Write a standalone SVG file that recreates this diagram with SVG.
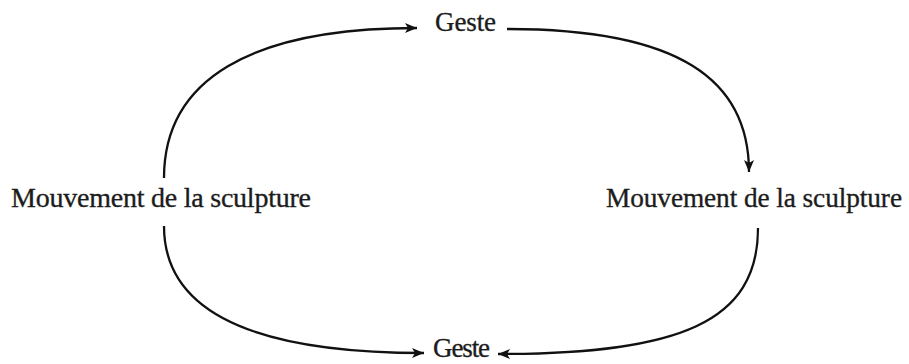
<svg xmlns="http://www.w3.org/2000/svg" width="909" height="364" viewBox="0 0 909 364">
<defs>
<style>
.lbl{font-family:"Liberation Serif","Times New Roman",serif;fill:#1c1c1c;stroke:#1c1c1c;stroke-width:0.35}
.geste{font-size:27px}
.mvt{font-size:28px}
.conn{fill:none;stroke:#111;stroke-width:2.3}
</style>
<marker id="arr" viewBox="0 0 12 10" refX="12" refY="5" markerWidth="12" markerHeight="10" markerUnits="userSpaceOnUse" orient="auto">
<path d="M0,0 L12,5 L0,10 L3,5 Z" fill="#111"/>
</marker>
</defs>
<rect width="909" height="364" fill="#fff"/>
<g id="geste-top"><text class="lbl geste" x="435" y="31" textLength="61">Geste</text></g>
<g id="geste-bottom"><text class="lbl geste" x="433" y="357" textLength="57">Geste</text></g>
<g id="mouvement-left"><text class="lbl mvt" x="11" y="207" textLength="300">Mouvement de la sculpture</text></g>
<g id="mouvement-right"><text class="lbl mvt" x="606" y="207" style="font-size:27.3px" textLength="296">Mouvement de la sculpture</text></g>
<g id="connectors">
<path class="conn" d="M164,178 C164,80 250,28 417,28" marker-end="url(#arr)"/>
<path class="conn" d="M507,29 C680,29 749,80 749,172" marker-end="url(#arr)"/>
<path class="conn" d="M164,226 C164,300 230,353 424,353" marker-end="url(#arr)"/>
<path class="conn" d="M758,228 C758,322 680,354 498,354" marker-end="url(#arr)"/>
</g>
</svg>
